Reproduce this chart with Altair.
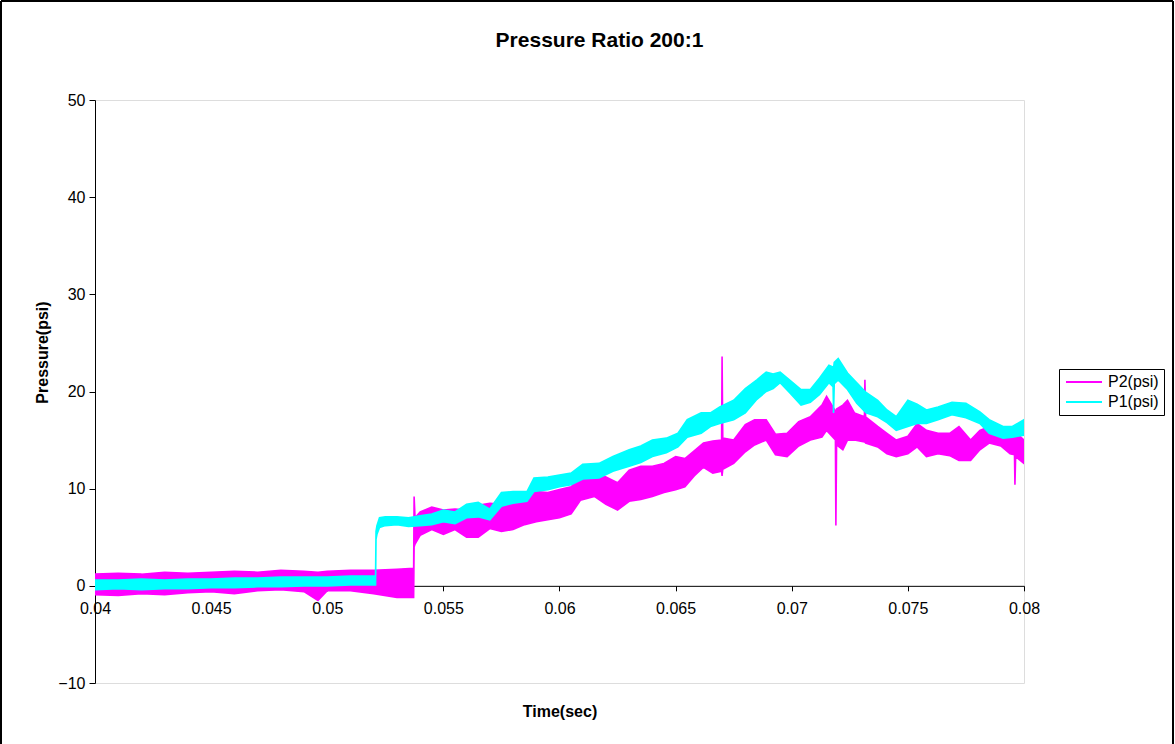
import altair as alt
import pandas as pd

TITLE = "Pressure Ratio 200:1"
X_TITLE = "Time(sec)"
Y_TITLE = "Pressure(psi)"
SERIES = ["P2(psi)", "P1(psi)"]
COLORS = ["#FF00FF", "#00FFFF"]
X_TICKS = [0.04, 0.045, 0.05, 0.055, 0.06, 0.065, 0.07, 0.075, 0.08]
Y_TICKS = [-10, 0, 10, 20, 30, 40, 50]

# P2(psi): time and lower / upper envelope of the noisy trace
P2_T = [0.0400, 0.0410, 0.0420, 0.0430, 0.0440, 0.0450, 0.0460, 0.0470, 0.0480,
        0.0490, 0.0496, 0.0500, 0.0510, 0.0520, 0.0530, 0.05372, 0.05374, 0.05378,
        0.0540, 0.0545, 0.0550, 0.0555, 0.0560, 0.0565, 0.0570, 0.0575, 0.0580,
        0.0585, 0.0590, 0.0595, 0.0600, 0.0605, 0.0609, 0.0615, 0.0620, 0.0625,
        0.0630, 0.0635, 0.0640, 0.0645, 0.0650, 0.0654, 0.0658, 0.0662, 0.0666,
        0.06698, 0.06700, 0.06703, 0.0675, 0.0680, 0.0684, 0.0689, 0.0693, 0.0698,
        0.0703, 0.0708, 0.0713, 0.0715, 0.07188, 0.07190, 0.07193, 0.0722, 0.0724,
        0.0727, 0.07313, 0.07315, 0.07318, 0.0737, 0.0741, 0.0745, 0.0750, 0.0754,
        0.0758, 0.0763, 0.0768, 0.0772, 0.0777, 0.0781, 0.0785, 0.0790, 0.0794,
        0.07959, 0.07961, 0.07964, 0.0800]
P2_LO = [-0.9, -1.0, -0.8, -0.9, -0.7, -0.6, -0.8, -0.5, -0.4,
         -0.6, -1.5, -0.5, -0.5, -0.8, -1.2, -1.2, 4.0, 4.3,
         5.2, 5.8, 5.3, 5.8, 5.0, 5.0, 5.9, 5.6, 5.8,
         6.3, 6.6, 6.8, 7.0, 7.4, 8.8, 9.2, 8.4, 7.8,
         8.7, 8.9, 9.2, 9.6, 9.9, 10.2, 11.3, 12.2, 11.6,
         11.8, 11.3, 12.0, 12.6, 13.8, 14.5, 15.0, 13.5, 13.3,
         14.4, 15.0, 15.3, 16.0, 15.0, 6.2, 14.5, 14.0, 15.0,
         15.0, 14.8, 14.8, 14.7, 14.3, 13.6, 13.3, 13.6, 14.3,
         13.3, 13.6, 13.4, 12.9, 12.9, 14.0, 14.7, 14.4, 13.6,
         13.5, 10.4, 13.3, 12.6]
P2_HI = [1.2, 1.3, 1.2, 1.4, 1.3, 1.4, 1.5, 1.4, 1.6,
         1.5, 1.4, 1.5, 1.6, 1.6, 1.7, 1.8, 9.2, 7.0,
         7.6, 8.1, 7.8, 7.9, 7.8, 8.3, 8.5, 8.4, 8.7,
         9.4, 9.7, 9.6, 9.9, 10.2, 11.2, 11.6, 11.2, 10.6,
         11.9, 12.3, 12.3, 12.6, 13.3, 13.1, 13.9, 14.7, 14.9,
         15.0, 23.6, 15.2, 15.0, 16.6, 17.1, 17.1, 15.6, 15.7,
         16.9, 17.4, 18.6, 19.5, 18.0, 17.8, 18.2, 18.6, 19.1,
         17.8, 17.4, 21.2, 17.4, 16.4, 15.7, 15.0, 15.4, 16.7,
         16.0, 15.7, 15.7, 16.4, 15.0, 16.0, 16.4, 16.0, 15.7,
         15.5, 15.4, 15.8, 15.0]

# P1(psi)
P1_T = [0.0400, 0.0410, 0.0420, 0.0430, 0.0440, 0.0450, 0.0460, 0.0470, 0.0480,
        0.0490, 0.0500, 0.0510, 0.05208, 0.05210, 0.05214, 0.05225, 0.0525, 0.0530,
        0.0535, 0.0540, 0.0545, 0.0550, 0.0555, 0.0560, 0.0565, 0.0570, 0.0575,
        0.0580, 0.0586, 0.0589, 0.0595, 0.0600, 0.0605, 0.0610, 0.0617, 0.0623,
        0.0630, 0.0635, 0.0640, 0.0646, 0.0651, 0.0655, 0.0661, 0.0665, 0.0669,
        0.0675, 0.0680, 0.0685, 0.0689, 0.0692, 0.0695, 0.0699, 0.0704, 0.0708,
        0.0712, 0.0716, 0.07178, 0.07180, 0.07183, 0.0720, 0.0724, 0.0728, 0.0732,
        0.0737, 0.0741, 0.0745, 0.0750, 0.0754, 0.0758, 0.0763, 0.0769, 0.0775,
        0.0781, 0.0785, 0.0791, 0.0795, 0.0800]
P1_LO = [-0.4, -0.3, -0.4, -0.3, -0.3, -0.2, -0.2, -0.1, -0.1,
         0.0, 0.0, 0.1, 0.1, 4.8, 5.3, 6.0, 6.2, 6.3,
         6.1, 6.2, 6.3, 6.6, 6.4, 7.0, 7.1, 6.8, 8.2,
         8.5, 8.7, 9.7, 9.9, 10.2, 10.4, 11.0, 11.1, 11.8,
         12.3, 12.7, 13.3, 13.7, 14.3, 15.3, 15.7, 16.4, 16.7,
         17.1, 17.8, 19.2, 20.0, 20.3, 20.9, 19.9, 18.6, 18.9,
         19.7, 20.9, 20.5, 17.8, 20.8, 21.2, 20.2, 18.8, 17.8,
         17.4, 16.8, 16.0, 16.4, 16.7, 16.7, 17.1, 17.6, 17.3,
         16.7, 15.7, 15.2, 15.3, 15.5]
P1_HI = [0.6, 0.6, 0.7, 0.6, 0.7, 0.7, 0.8, 0.8, 0.9,
         0.9, 0.9, 1.0, 1.0, 5.6, 6.2, 7.0, 7.1, 7.1,
         7.0, 7.2, 7.4, 7.8, 7.6, 8.4, 8.6, 7.9, 9.6,
         9.7, 9.7, 11.1, 11.2, 11.4, 11.6, 12.5, 12.6, 13.3,
         14.0, 14.4, 15.0, 15.2, 15.7, 17.1, 17.8, 17.8, 18.4,
         19.1, 20.3, 21.2, 22.0, 21.8, 22.0, 21.2, 20.2, 20.2,
         21.4, 22.7, 22.5, 22.4, 23.0, 23.4, 21.9, 20.9, 19.9,
         19.1, 18.1, 17.4, 19.1, 18.7, 18.1, 18.4, 18.9, 18.8,
         17.9, 17.1, 16.4, 16.4, 17.1]

rows = []
for t, lo, hi in zip(P2_T, P2_LO, P2_HI):
    rows.append({"series": SERIES[0], "t": t, "lo": lo, "hi": hi})
for t, lo, hi in zip(P1_T, P1_LO, P1_HI):
    rows.append({"series": SERIES[1], "t": t, "lo": lo, "hi": hi})
df = pd.DataFrame(rows)

FONT = "Liberation Sans"
W, H = 929, 583
y0_offset = -(H - H * 50 / 60)

color_scale = alt.Scale(domain=SERIES, range=COLORS)
legend = alt.Legend(
    title=None, orient="none", legendX=964, legendY=269,
    symbolType="M-3,0H3", symbolSize=144, symbolStrokeWidth=2,
    symbolOffset=12,
    labelFont=FONT, labelFontSize=16, labelColor="black", labelOffset=16,
    strokeColor="black", padding=5, rowPadding=4,
)

x_enc = alt.X("t:Q", scale=alt.Scale(domain=[0.04, 0.08], nice=False, zero=False),
              axis=alt.Axis(values=X_TICKS, format="~g", offset=y0_offset, grid=False,
                            tickSize=5, tickColor="black", domainColor="black",
                            labelPadding=10, labelFontSize=16, labelFont=FONT,
                            labelColor="black", labelFlush=False, labelOverlap=False,
                            title=X_TITLE, titleFont=FONT, titleFontSize=16,
                            titleFontWeight="bold", titleColor="black",
                            titleY=126, titleBaseline="middle"))
y_enc = alt.Y("lo:Q", scale=alt.Scale(domain=[-10, 50], nice=False, zero=False),
              axis=alt.Axis(values=Y_TICKS, grid=False, tickSize=6, tickColor="black",
                            domainColor="black", labelPadding=4, labelFontSize=16,
                            labelFont=FONT, labelColor="black", labelFlush=False,
                            title=Y_TITLE, titleFont=FONT, titleFontSize=16,
                            titleFontWeight="bold", titleColor="black",
                            titleX=-53, titleY=252, titleAngle=270,
                            titleBaseline="middle", titleAlign="center"))

def band(name):
    return alt.Chart(df).transform_filter(alt.datum.series == name).mark_area(
        strokeWidth=1.6, fillOpacity=1, clip=True
    ).encode(
        x=x_enc, y=y_enc, y2="hi:Q",
        fill=alt.Fill("series:N", scale=color_scale, legend=legend),
        stroke=alt.Stroke("series:N", scale=color_scale, legend=legend),
    )

frame_src = pd.DataFrame({"k": [0]})
frame_top = alt.Chart(frame_src).mark_rule(color="black", strokeWidth=2).encode(
    x=alt.value(-94), x2=alt.value(1078), y=alt.value(-99))
frame_left = alt.Chart(frame_src).mark_rule(color="black", strokeWidth=2).encode(
    x=alt.value(-94), y=alt.value(-99), y2=alt.value(644))
frame_right = alt.Chart(frame_src).mark_rule(color="black", strokeWidth=2).encode(
    x=alt.value(1078), y=alt.value(-99), y2=alt.value(644))

chart = alt.layer(band(SERIES[0]), band(SERIES[1]), frame_top, frame_left, frame_right).properties(
    width=W, height=H,
    title=alt.TitleParams(TITLE, font=FONT, fontSize=21, fontWeight="bold", color="black",
                          anchor="middle", frame="group", dx=40, offset=0, dy=62,
                          baseline="middle"),
    padding={"left": 95, "top": 100, "right": 151, "bottom": 61},
    autosize=alt.AutoSizeParams(type="none"),
).configure_view(stroke="#808080", strokeWidth=1).configure(background="white")

chart.save("out.html", embed_options={"renderer": "svg", "actions": False})
